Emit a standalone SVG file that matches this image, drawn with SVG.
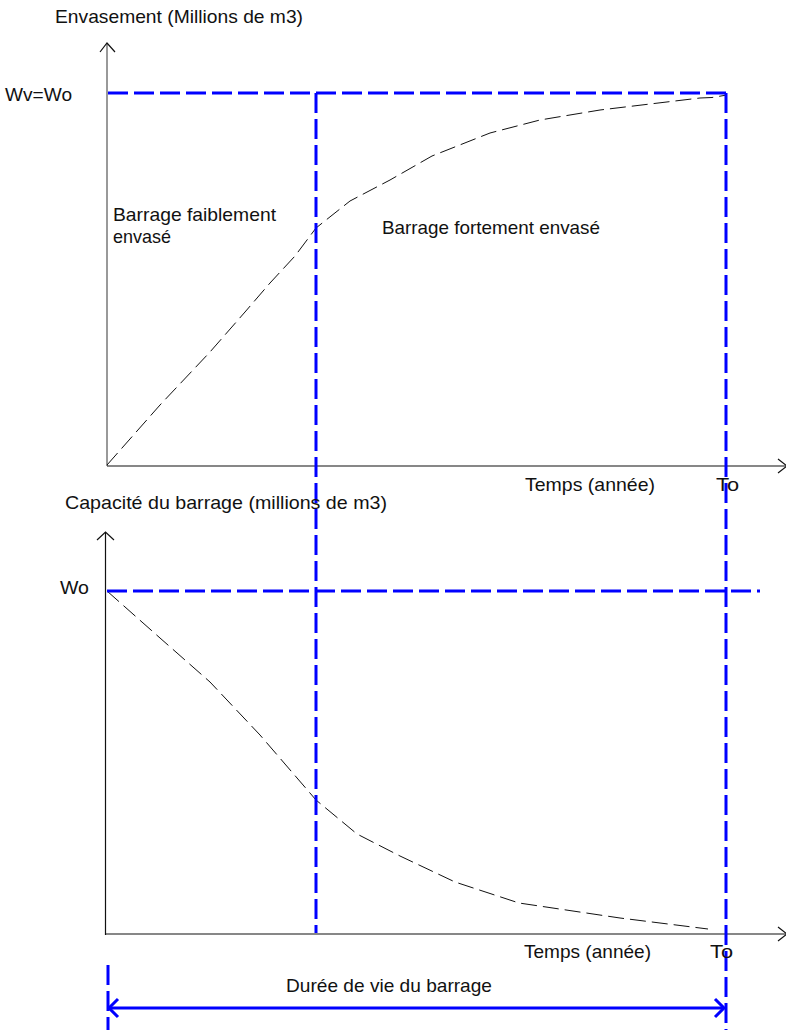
<svg xmlns="http://www.w3.org/2000/svg" width="786" height="1030" viewBox="0 0 786 1030">
<style>
text{font-family:"Liberation Sans",Arial,sans-serif;font-size:19px;fill:#111}
.axis{stroke:#111;stroke-width:1.2;fill:none}
.axisg{stroke:#777;stroke-width:1.5;fill:none}
.guide{stroke:#0000ff;stroke-width:3;stroke-dasharray:20 6;fill:none}
.curve{stroke:#111;stroke-width:1;stroke-dasharray:16 6;fill:none}
.dim{stroke:#0000ff;stroke-width:3;fill:none}
</style>
<rect width="786" height="1030" fill="#fff"/>
<g id="top-chart">
  <line class="axisg" x1="107" y1="466" x2="107" y2="44"/>
  <polyline class="axis" points="100,52 107,43 115,52"/>
  <line class="axis" x1="107" y1="466" x2="786" y2="466"/>
  <polyline class="axis" points="778,459 787,466 778,473"/>
  <polyline class="curve" points="107,465 160,405 210,352 245,312 270,283 295,256 316,228 350,201 390,180 432,156 490,133 540,120 600,110 650,104 700,98 712,97.5 727,95"/>
</g>
<g id="bottom-chart">
  <line class="axis" x1="105.5" y1="935" x2="105.5" y2="533"/>
  <polyline class="axis" points="97,540 105.5,532 114,540"/>
  <line class="axis" x1="105" y1="934" x2="786" y2="934"/>
  <polyline class="axis" points="778,927 787,934 778,941"/>
  <polyline class="curve" points="107,591 160,638 210,682 260,735 316,800 357,834 400,856 455,882 519,903 620,918 708,929"/>
</g>
<g id="guides">
  <line class="guide" x1="108" y1="93" x2="728" y2="93"/>
  <line class="guide" x1="316" y1="93" x2="316" y2="933"/>
  <line class="guide" x1="726" y1="93" x2="726" y2="1030"/>
  <line class="guide" x1="107" y1="591" x2="760" y2="591"/>
  <line class="guide" x1="108" y1="965" x2="108" y2="1030"/>
</g>
<g id="duration-arrow">
  <line class="dim" x1="109" y1="1008" x2="724" y2="1008"/>
  <polyline class="dim" points="118,999 109,1008 118,1017"/>
  <polyline class="dim" points="715,999 724,1008 715,1017"/>
</g>
<g id="labels">
  <text x="55" y="23" textLength="248" lengthAdjust="spacingAndGlyphs">Envasement (Millions de m3)</text>
  <text x="5" y="101" textLength="67" lengthAdjust="spacingAndGlyphs">Wv=Wo</text>
  <text x="113" y="221" textLength="163" lengthAdjust="spacingAndGlyphs">Barrage faiblement</text>
  <text x="113" y="243" textLength="58" lengthAdjust="spacingAndGlyphs">envasé</text>
  <text x="382" y="234" textLength="218" lengthAdjust="spacingAndGlyphs">Barrage fortement envasé</text>
  <text x="525" y="491" textLength="130" lengthAdjust="spacingAndGlyphs">Temps (année)</text>
  <text x="716" y="491" textLength="23" lengthAdjust="spacingAndGlyphs">To</text>
  <text x="65" y="509" textLength="322" lengthAdjust="spacingAndGlyphs">Capacité du barrage (millions de m3)</text>
  <text x="60" y="594" textLength="29" lengthAdjust="spacingAndGlyphs">Wo</text>
  <text x="524" y="958" textLength="127" lengthAdjust="spacingAndGlyphs">Temps (année)</text>
  <text x="710" y="958" textLength="23" lengthAdjust="spacingAndGlyphs">To</text>
  <text x="286" y="992" textLength="206" lengthAdjust="spacingAndGlyphs">Durée de vie du barrage</text>
</g>
</svg>
